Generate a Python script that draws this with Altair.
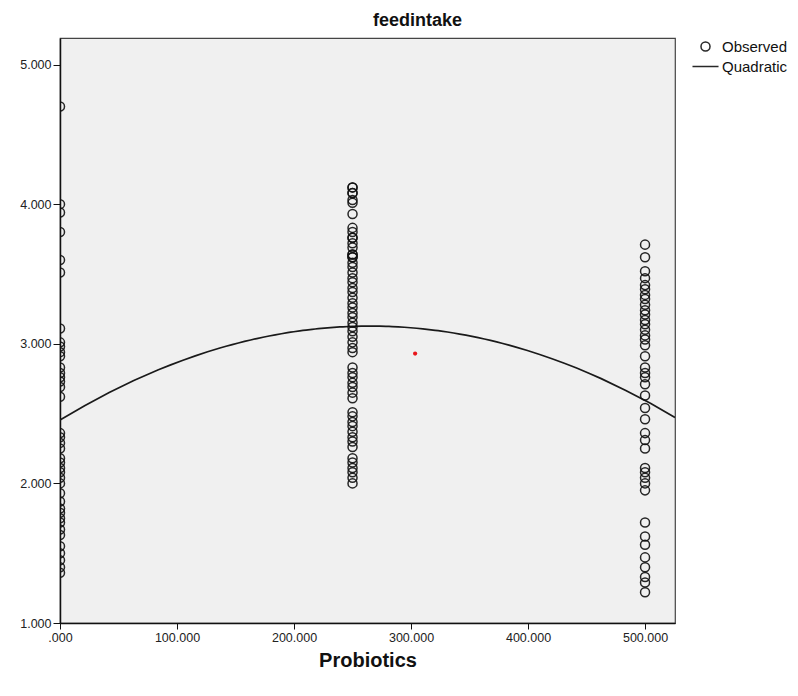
import altair as alt
import pandas as pd

# ---- data ----
doses = [0, 250, 500]
feed_0 = [4.70, 4.00, 3.94, 3.80, 3.60, 3.51, 3.11, 3.01, 2.98, 2.94, 2.91,
          2.83, 2.79, 2.76, 2.73, 2.69, 2.62, 2.36, 2.33, 2.29, 2.25, 2.18,
          2.15, 2.11, 2.08, 2.04, 2.00, 1.93, 1.87, 1.82, 1.79, 1.75, 1.72,
          1.67, 1.63, 1.55, 1.50, 1.45, 1.40, 1.36]
feed_250 = [4.12, 4.12, 4.08, 4.08, 4.03, 4.01, 3.93, 3.83, 3.80, 3.76, 3.76,
            3.72, 3.69, 3.64, 3.64, 3.62, 3.62, 3.58, 3.55, 3.51, 3.47, 3.44,
            3.40, 3.37, 3.33, 3.29, 3.26, 3.22, 3.19, 3.15, 3.12, 3.09, 3.05,
            3.01, 2.97, 2.94, 2.83, 2.79, 2.76, 2.72, 2.69, 2.65, 2.61, 2.51,
            2.48, 2.44, 2.41, 2.37, 2.33, 2.30, 2.26, 2.18, 2.15, 2.11, 2.08,
            2.04, 2.00]
feed_500 = [3.71, 3.62, 3.52, 3.47, 3.42, 3.39, 3.35, 3.32, 3.28, 3.24, 3.21,
            3.17, 3.14, 3.10, 3.06, 3.03, 2.99, 2.91, 2.83, 2.79, 2.76, 2.71,
            2.63, 2.54, 2.46, 2.36, 2.31, 2.25, 2.11, 2.08, 2.04, 2.00, 1.95,
            1.72, 1.62, 1.56, 1.47, 1.40, 1.33, 1.29, 1.22]
stray_x = [303.5]
stray_y = [2.93]

series_names = ["Observed", "Quadratic"]
x_ticks = [0, 100, 200, 300, 400, 500]
y_ticks = [1, 2, 3, 4, 5]
x_domain = [0, 525.6]
y_domain = [1, 5.19]

rows = []
for d, vals in zip(doses, [feed_0, feed_250, feed_500]):
    for v in vals:
        rows.append({"Probiotics": d, "feedintake": v, "series": "Observed"})
obs = pd.DataFrame(rows)
stray = pd.DataFrame({"Probiotics": stray_x, "feedintake": stray_y})

FONT = "Liberation Sans"
circle_path = "M0.43,0A0.43,0.43,0,1,1,-0.43,0A0.43,0.43,0,1,1,0.43,0Z"
line_path = "M-1.24,0L1.24,0"

xscale = alt.Scale(domain=x_domain, nice=False, zero=False)
yscale = alt.Scale(domain=y_domain, nice=False, zero=False)

xaxis = alt.Axis(values=x_ticks, labelExpr="datum.value == 0 ? '.000' : format(datum.value, '.3f')",
                 title="Probiotics", titleFontSize=20, titleFont=FONT, titleFontWeight="bold",
                 titleColor="#111", titleBaseline="alphabetic", titleY=43,
                 labelFont=FONT, labelFontSize=12.5,
                 labelColor="#222", tickSize=6, tickColor="#111", domainColor="#111",
                 domainWidth=1.5, labelPadding=2, grid=False, labelFlush=False)
yaxis = alt.Axis(values=y_ticks, format=".3f", title=None, labelFont=FONT, labelFontSize=12.5,
                 labelColor="#222", tickSize=7, tickColor="#111", domainColor="#111",
                 domainWidth=1.5, labelPadding=2, grid=False)

points = alt.Chart(obs).mark_point(filled=False, size=441, strokeWidth=1.5, color="#111",
                                   opacity=0.9, clip=True).encode(
    x=alt.X("Probiotics:Q", scale=xscale, axis=xaxis),
    y=alt.Y("feedintake:Q", scale=yscale, axis=yaxis),
    shape=alt.Shape("series:N",
                    scale=alt.Scale(domain=series_names, range=[circle_path, line_path]),
                    legend=alt.Legend(title=None, orient="none", legendX=634, legendY=-3,
                                      symbolSize=441, symbolStrokeWidth=1.5,
                                      symbolStrokeColor="#111", labelFont=FONT,
                                      labelFontSize=15, labelColor="#111",
                                      labelOffset=5, rowPadding=0, padding=0)),
)

curve = alt.Chart(obs).transform_regression(
    "Probiotics", "feedintake", method="poly", order=2, extent=x_domain
).mark_line(color="#1a1a1a", strokeWidth=1.7, clip=True).encode(
    x=alt.X("Probiotics:Q", scale=xscale),
    y=alt.Y("feedintake:Q", scale=yscale),
)

red = alt.Chart(stray).mark_point(filled=True, size=18, color="#e8161b", opacity=1).encode(
    x=alt.X("Probiotics:Q", scale=xscale),
    y=alt.Y("feedintake:Q", scale=yscale),
)

chart = alt.layer(curve, points, red).properties(
    width=615, height=585,
    title=alt.TitleParams("feedintake", font=FONT, fontSize=18, fontWeight="bold",
                          color="#111", anchor="middle", dx=50, dy=23, offset=10,
                          baseline="bottom"),
    autosize=alt.AutoSizeParams(type="none"),
    padding={"left": 60, "top": 38, "right": 123, "bottom": 73},
).configure(background="white").configure_view(
    fill="#f0f0f0", stroke="#444", strokeWidth=1.2
)

chart.save("out.html", embed_options={"renderer": "svg", "actions": False})
